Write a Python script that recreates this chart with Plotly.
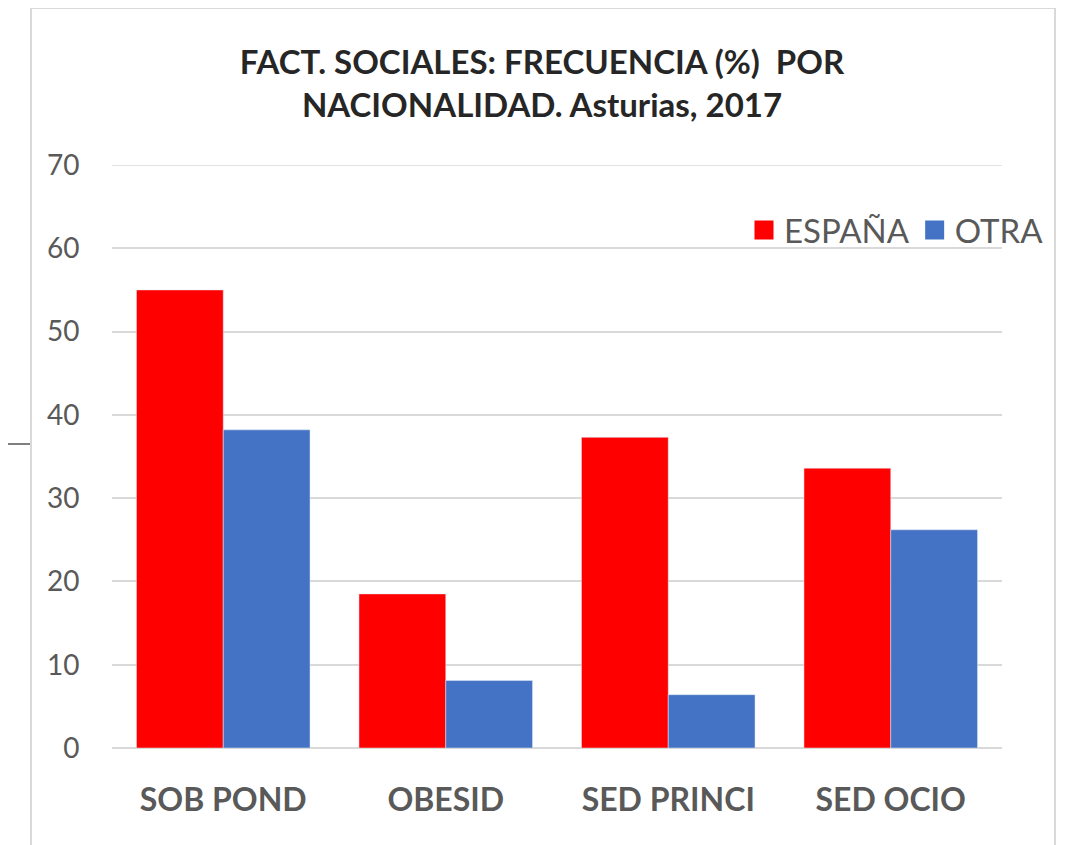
import plotly.graph_objects as go

categorias = ["SOB POND", "OBESID", "SED PRINCI", "SED OCIO"]
espana = [55.0, 18.5, 37.3, 33.6]
otra = [38.2, 8.1, 6.4, 26.2]
y_ticks = [0, 10, 20, 30, 40, 50, 60, 70]

# the page puts the figure 8px in from the top-left corner,
# so positions below are taken from the reference and shifted by OFF
OFF = 8
W, H = 1068 - OFF, 845 - OFF
L, T = 112 - OFF, 165 - OFF
R, B = W - (1002 - OFF), H - (748 - OFF)
PW, PH = W - L - R, H - T - B


def px_x(x):
    return (x - OFF - L) / PW


def px_y(y):
    return (H - B - (y - OFF)) / PH


fig = go.Figure()
fig.add_trace(go.Bar(name="ESPAÑA", x=categorias, y=espana, marker_color="#FF0000", showlegend=False))
fig.add_trace(go.Bar(name="OTRA", x=categorias, y=otra, marker_color="#4472C4", showlegend=False))

# legend entries with larger square swatches
for nombre, color in [("ESPAÑA", "#FF0000"), ("OTRA", "#4472C4")]:
    fig.add_trace(go.Scatter(
        x=[None], y=[None], mode="markers", name=nombre,
        marker=dict(symbol="square", size=16, color=color, line=dict(color=color, width=3)),
    ))

fig.update_layout(
    width=W,
    height=H,
    margin=dict(l=L, r=R, t=T, b=B),
    paper_bgcolor="white",
    plot_bgcolor="white",
    barmode="group",
    bargap=0.22,
    bargroupgap=0,
    font=dict(family="Lato", color="#595959"),
    title=dict(
        text="<b>FACT. SOCIALES: FRECUENCIA (%)  POR<br>NACIONALIDAD. Asturias, 2017</b>",
        x=(542 - OFF) / W,
        xanchor="center",
        y=1 - (74 - OFF) / H,
        yanchor="top",
        font=dict(family="Lato", size=33, color="#262626"),
    ),
    legend=dict(
        orientation="h",
        x=px_x(1049),
        xanchor="right",
        y=px_y(230),
        yanchor="middle",
        font=dict(size=33, color="#595959"),
        itemwidth=30,
        bgcolor="rgba(0,0,0,0)",
    ),
)

fig.update_yaxes(
    range=[0, 70],
    tickvals=y_ticks,
    showgrid=True,
    gridcolor="#D9D9D9",
    gridwidth=1.5,
    zeroline=True,
    zerolinecolor="#D9D9D9",
    zerolinewidth=1.5,
    showline=False,
    ticks="outside",
    ticklen=26,
    tickcolor="rgba(0,0,0,0)",
    tickfont=dict(size=28, color="#595959"),
)
fig.update_xaxes(
    showgrid=False,
    showline=False,
    ticks="outside",
    ticklen=24,
    tickcolor="rgba(0,0,0,0)",
    tickfont=dict(size=32, color="#595959", weight="bold"),
)

# top gridline at 70 (plotly skips the one on the range edge)
fig.add_shape(type="line", xref="paper", yref="y", x0=0, x1=1, y0=y_ticks[-1], y1=y_ticks[-1],
              line=dict(color="#D9D9D9", width=1.5), layer="below")

# chart frame and stray line at the left edge
fig.add_shape(type="rect", xref="paper", yref="paper",
              x0=px_x(31), x1=px_x(1055), y0=px_y(900), y1=px_y(8),
              line=dict(color="#D9D9D9", width=2), fillcolor="rgba(0,0,0,0)", layer="below")
fig.add_shape(type="line", xref="paper", yref="paper",
              x0=px_x(0), x1=px_x(30), y0=px_y(444), y1=px_y(444),
              line=dict(color="#555555", width=1.5))

fig.write_html("out.html")
